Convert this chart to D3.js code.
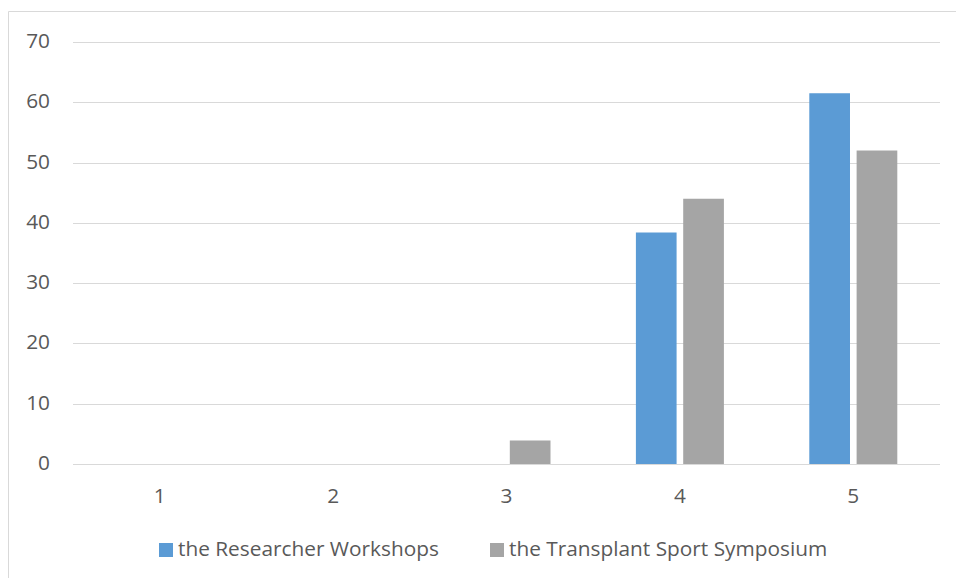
<!DOCTYPE html>
<html><head><meta charset="utf-8">
<script src="https://cdn.jsdelivr.net/npm/d3@7/dist/d3.min.js"></script>
<style>body{margin:0;background:#fff}svg{display:block}text{font-family:"Open Sans",sans-serif;fill:#595959}</style>
</head><body><svg id="c" width="956" height="578"></svg>
<script>
const categories = ["1","2","3","4","5"];
const seriesNames = ["the Researcher Workshops","the Transplant Sport Symposium"];
const researcher = [0,0,0,38.4,61.5];
const symposium = [0,0,3.9,44,52];
const yTicks = [0,10,20,30,40,50,60,70];
const colors = ["#5b9bd5","#a5a5a5"];

const svg = d3.select("#c");
const L=73, R=940, T=42, B=464;
svg.append("path").attr("d","M8.5,578 V11.5 H956").attr("fill","none").attr("stroke","#d9d9d9");
const x = d3.scaleBand().domain(categories).range([L,R]);
const y = d3.scaleLinear().domain([0,70]).range([B,T]);
const x1 = d3.scaleBand().domain([0,1]).range([-44,44]).paddingInner(0.14);

// fit font size so legend text width matches reference (~261px)
const probe = svg.append("text").attr("font-size",16).text(seriesNames[0]);
const fs = 16*261/probe.node().getComputedTextLength();
probe.remove();

svg.append("g").selectAll("line").data(yTicks).join("line")
 .attr("x1",L).attr("x2",R).attr("y1",d=>Math.round(y(d))+0.5).attr("y2",d=>Math.round(y(d))+0.5)
 .attr("stroke","#d9d9d9").attr("stroke-width",1);
svg.append("g").selectAll("text").data(yTicks).join("text")
 .attr("x",50).attr("y",d=>y(d)+6).attr("text-anchor","end").attr("font-size",fs).text(d=>d);

const series=[researcher,symposium];
series.forEach((vals,si)=>{
  svg.append("g").selectAll("rect").data(vals.map((v,i)=>({v,c:categories[i]}))).join("rect")
   .attr("x",d=>x(d.c)+x.bandwidth()/2+x1(si)).attr("width",x1.bandwidth())
   .attr("y",d=>y(d.v)).attr("height",d=>B-y(d.v)).attr("fill",colors[si]);
});
svg.append("g").selectAll("text").data(categories).join("text")
 .attr("x",d=>x(d)+x.bandwidth()/2).attr("y",503).attr("text-anchor","middle").attr("font-size",fs).text(d=>d);

const lx=[159,490];
seriesNames.forEach((n,i)=>{
  svg.append("rect").attr("x",lx[i]).attr("y",543).attr("width",14).attr("height",14).attr("fill",colors[i]);
  svg.append("text").attr("x",lx[i]+19).attr("y",556).attr("font-size",fs).text(n);
});
</script></body></html>
